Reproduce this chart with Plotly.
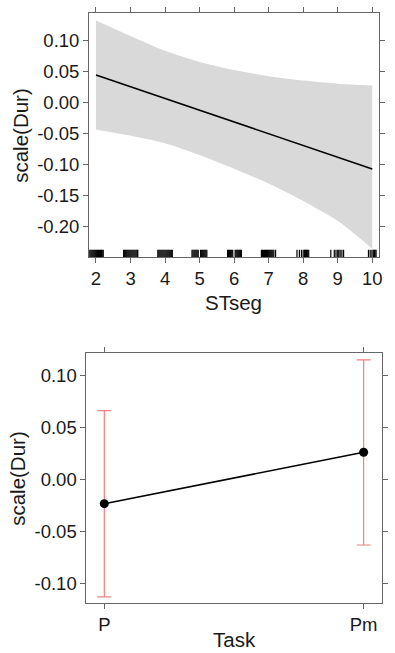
import plotly.graph_objects as go

# ---- Top panel data: effect of STseg ----
stseg_fit_x = [2, 10]
stseg_fit_y = [0.044, -0.1076]
stseg_band_x = [2, 3, 4, 5, 6, 7, 8, 9, 10]
stseg_upper = [0.132, 0.107, 0.083, 0.065, 0.052, 0.042, 0.035, 0.030, 0.027]
stseg_lower = [-0.044, -0.054, -0.066, -0.085, -0.107, -0.131, -0.159, -0.191, -0.236]
stseg_rug = [
    1.80, 1.83, 1.86, 1.89, 1.92, 1.95, 1.98, 2.01, 2.04, 2.07, 2.10, 2.13, 2.16, 2.18, 2.21,
    2.80, 2.83, 2.86, 2.89, 2.92, 2.95, 2.98, 3.01, 3.04, 3.07, 3.10, 3.13, 3.16, 3.19, 3.21,
    3.79, 3.82, 3.85, 3.88, 3.91, 3.94, 3.97, 4.00, 4.03, 4.06, 4.09, 4.12, 4.15, 4.18, 4.21,
    4.78, 4.81, 4.84, 4.87, 4.90, 4.93, 4.96, 5.03, 5.06, 5.09, 5.12, 5.15, 5.18, 5.21,
    5.81, 5.84, 5.87, 5.90, 5.93, 5.96, 6.03, 6.06, 6.09, 6.12, 6.15, 6.18, 6.21,
    6.79, 6.82, 6.85, 6.88, 6.91, 6.94, 6.97, 7.00, 7.03, 7.06, 7.09, 7.12, 7.15, 7.20,
    7.82, 7.89, 7.95, 8.00, 8.04, 8.06, 8.08, 8.10, 8.12, 8.16,
    8.80, 8.90, 8.95, 9.00, 9.03, 9.07, 9.12, 9.17,
    9.89, 9.94, 9.99, 10.03, 10.06, 10.08, 10.11,
]
stseg_ticks = [2, 3, 4, 5, 6, 7, 8, 9, 10]
top_yticks = [0.10, 0.05, 0.00, -0.05, -0.10, -0.15, -0.20]
top_yticklabels = ["0.10", "0.05", "0.00", "-0.05", "-0.10", "-0.15", "-0.20"]

# ---- Bottom panel data: effect of Task ----
task_cats = ["P", "Pm"]
task_fit = [-0.0229, 0.0265]
task_upper = [0.0664, 0.1151]
task_lower = [-0.1125, -0.0626]
bottom_yticks = [0.10, 0.05, 0.00, -0.05, -0.10]
bottom_yticklabels = ["0.10", "0.05", "0.00", "-0.05", "-0.10"]

FONT = "Liberation Sans, Arial, sans-serif"
TXT = "#1a1a1a"
AX = "#666666"
W, H = 395, 653

fig = go.Figure()

# band
fig.add_trace(go.Scatter(x=stseg_band_x, y=stseg_lower, mode="lines",
                         line=dict(width=0, shape="spline", smoothing=0.6),
                         showlegend=False, hoverinfo="skip", xaxis="x", yaxis="y"))
fig.add_trace(go.Scatter(x=stseg_band_x, y=stseg_upper, mode="lines",
                         line=dict(width=0, shape="spline", smoothing=0.6),
                         fill="tonexty", fillcolor="#d9d9d9",
                         showlegend=False, hoverinfo="skip", xaxis="x", yaxis="y"))
fig.add_trace(go.Scatter(x=stseg_fit_x, y=stseg_fit_y, mode="lines",
                         line=dict(color="black", width=1.6),
                         showlegend=False, xaxis="x", yaxis="y"))

# rug
for v in stseg_rug:
    fig.add_shape(type="line", xref="x", yref="y domain", x0=v, x1=v, y0=0, y1=0.03,
                  line=dict(color="black", width=1.2))

# task effect
err_plus = [u - f for u, f in zip(task_upper, task_fit)]
err_minus = [f - l for f, l in zip(task_fit, task_lower)]
fig.add_trace(go.Scatter(x=task_cats, y=task_fit, mode="lines+markers",
                         line=dict(color="black", width=1.6),
                         marker=dict(color="black", size=9),
                         error_y=dict(type="data", array=err_plus, arrayminus=err_minus,
                                      color="#f08080", thickness=1.2, width=7),
                         showlegend=False, xaxis="x2", yaxis="y2"))

common = dict(showline=True, linecolor=AX, linewidth=1, mirror="ticks",
              ticks="outside", ticklen=5, tickcolor=AX, tickwidth=1,
              showgrid=False, zeroline=False,
              tickfont=dict(family=FONT, size=18.5, color=TXT))

fig.update_layout(
    width=W, height=H,
    margin=dict(l=0, r=0, t=0, b=0),
    paper_bgcolor="white", plot_bgcolor="white",
    xaxis=dict(domain=[90 / W, 382.7 / W], range=[1.8, 10.19],
               tickvals=stseg_ticks, anchor="y", **common),
    yaxis=dict(domain=[1 - 257 / H, 1 - 13 / H], range=[-0.2495, 0.144],
               tickvals=top_yticks, ticktext=top_yticklabels, anchor="x", **common),
    xaxis2=dict(domain=[87.3 / W, 385.7 / W], type="category",
                range=[-0.069, 1.07], anchor="y2", **common),
    yaxis2=dict(domain=[1 - 602.7 / H, 1 - 353.3 / H], range=[-0.118, 0.1215],
                tickvals=bottom_yticks, ticktext=bottom_yticklabels, anchor="x2", **common),
)

ann_font = dict(family=FONT, size=20.5, color=TXT)
fig.add_annotation(text="scale(Dur)", x=20 / W, y=1 - 135 / H, xref="paper", yref="paper",
                   textangle=-90, showarrow=False, font=ann_font, xanchor="center", yanchor="middle")
fig.add_annotation(text="scale(Dur)", x=17 / W, y=1 - 478 / H, xref="paper", yref="paper",
                   textangle=-90, showarrow=False, font=ann_font, xanchor="center", yanchor="middle")
fig.add_annotation(text="STseg", x=236.3 / W, y=1 - 302 / H, xref="paper", yref="paper",
                   showarrow=False, font=ann_font, xanchor="center", yanchor="middle")
fig.add_annotation(text="Task", x=236.5 / W, y=0, xref="paper", yref="paper",
                   showarrow=False, font=ann_font, xanchor="center", yanchor="bottom")

fig.write_html("out.html")
